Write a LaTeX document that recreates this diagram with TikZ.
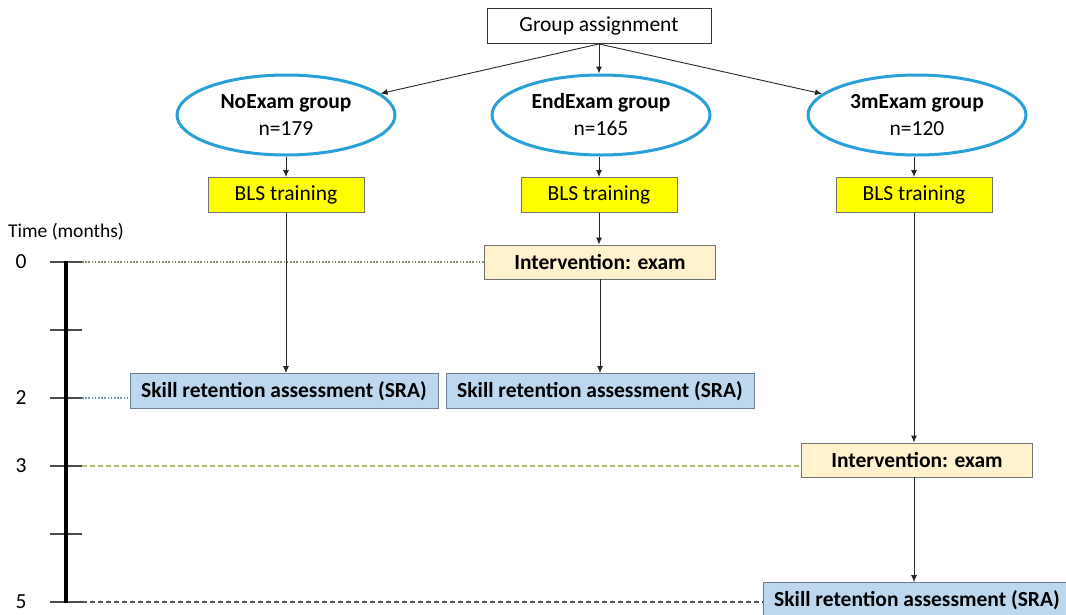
\documentclass[tikz,border=0pt]{standalone}
\usepackage{fontspec}
\setmainfont{Carlito}
\usetikzlibrary{positioning,arrows.meta,shapes.geometric}
\definecolor{ringblue}{HTML}{2AA0D8}
\definecolor{blsyellow}{HTML}{FFFF00}
\definecolor{srablue}{HTML}{BDD7EE}
\definecolor{srarim}{HTML}{6F7F8F}
\definecolor{examtan}{HTML}{FFF2CC}
\definecolor{lineolive}{HTML}{8C8C5A}
\definecolor{lineteal}{HTML}{6A9EA8}
\definecolor{linelime}{HTML}{B4C47A}
\definecolor{linegray}{HTML}{555555}
\tikzset{
  plainbox/.style={draw=black!80, line width=0.9pt, minimum width=224pt, minimum height=35pt, inner sep=2pt},
  grp/.style={ellipse, draw=ringblue, line width=3pt, fill=white, minimum width=218pt, minimum height=80pt, inner sep=0pt, align=center, font=\fontsize{21.5}{27}\selectfont},
  bls/.style={draw=black!55, line width=0.9pt, fill=blsyellow, minimum width=156pt, minimum height=35pt, inner sep=2pt},
  exambox/.style={draw=black!55, line width=0.9pt, fill=examtan, minimum width=231pt, minimum height=34pt, inner sep=2pt, font=\fontsize{21.5}{24}\selectfont\bfseries},
  srabox/.style={draw=srarim, line width=0.9pt, fill=srablue, minimum width=308pt, minimum height=35pt, inner sep=2pt, font=\fontsize{21.5}{24}\selectfont\bfseries},
  arr/.style={-{Latex[length=7pt,width=6pt]}, line width=0.9pt, black!85},
  tickmark/.style={line width=1.3pt, black!70},
  dots/.style={line width=1.3pt, dash pattern=on 1.6pt off 1.6pt},
  dashes/.style={line width=1.3pt, dash pattern=on 5pt off 3pt},
}
\begin{document}
\begin{tikzpicture}[x=1pt,y=-1pt,font=\fontsize{21.5}{24}\selectfont]
\useasboundingbox (0,0) rectangle (1066,614);
\node[plainbox] (ga) at (599,26) {Group assignment};
\node[grp] (g1) at (286,115) {\textbf{NoExam group}\\n=179};
\node[grp] (g2) at (601,115) {\textbf{EndExam group}\\n=165};
\node[grp] (g3) at (917,115) {\textbf{3mExam group}\\n=120};
\node[bls] (b1) at (286,195) {BLS training};
\node[bls] (b2) at (599,195) {BLS training};
\node[bls] (b3) at (914,195) {BLS training};
\node[exambox] (x2) at (600,262) {Intervention: exam};
\node[exambox] (x3) at (917,460) {Intervention: exam};
\node[srabox] (s1) at (284,391) {Skill retention assessment (SRA)};
\node[srabox] (s2) at (600,391) {Skill retention assessment (SRA)};
\node[srabox] (s3) at (917,600) {Skill retention assessment (SRA)};
\node[font=\fontsize{19.5}{22}\selectfont] (tl) at (66,232) {Time (months)};
\foreach \m in {0,...,5} {
  \coordinate (k\m) at (66,{262+68*\m});
  \draw[tickmark] ([xshift=-16pt]k\m) -- ([xshift=16pt]k\m);
}
\foreach \m in {0,2,3,5}
  \node (l\m) at ([xshift=-45pt]k\m) {\m};
\draw[line width=4.5pt] ([yshift=1pt]k0) -- ([yshift=-1pt]k5);
\draw[lineolive, dots] ([xshift=16pt]k0) -- (x2.west |- k0);
\draw[lineteal, dots] ([xshift=16pt]k2) -- (s1.west |- k2);
\draw[linelime, dashes] ([xshift=16pt]k3) -- (x3.west |- k3);
\draw[linegray, dashes] ([xshift=16pt]k5) -- (s3.west |- k5);
\draw[arr] (ga.south) -- (g1);
\draw[arr] (ga.south) -- (ga.south |- g2.north);
\draw[arr] (ga.south) -- (g3);
\draw[arr] (g1.south) -- (b1);
\draw[arr] (g2.south -| b2) -- (b2);
\draw[arr] (g3.south -| b3) -- (b3);
\draw[arr] (b1) -- (b1 |- s1.north);
\draw[arr] (b2) -- (b2 |- x2.north);
\draw[arr] (x2) -- (x2 |- s2.north);
\draw[arr] (b3) -- (b3 |- x3.north);
\draw[arr] (x3.south -| b3) -- (b3 |- s3.north);
\end{tikzpicture}
\end{document}
